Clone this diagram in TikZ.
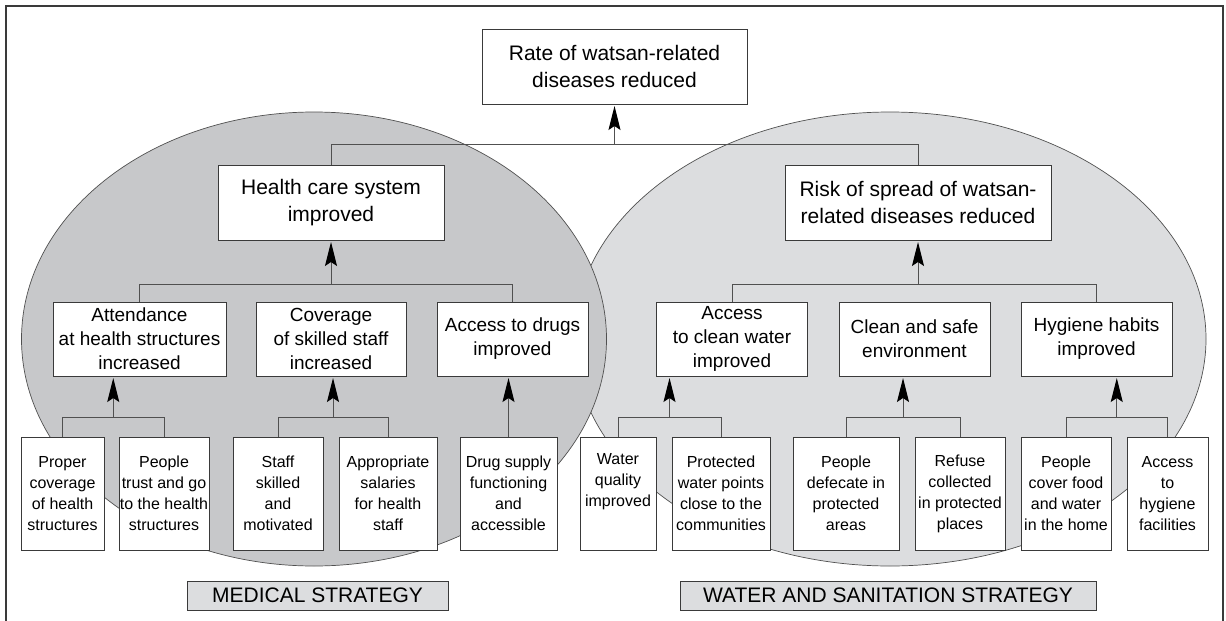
\documentclass[tikz,border=0pt]{standalone}
\usepackage{fontspec}
\setmainfont{Liberation Sans}
\usetikzlibrary{arrows.meta,calc}
\definecolor{leftgray}{HTML}{C7C8CA}
\definecolor{rightgray}{HTML}{DCDDDF}
\definecolor{stratgray}{HTML}{DCDDDF}
\definecolor{boxc}{HTML}{3A3A3A}
\definecolor{linec}{HTML}{505050}
\tikzset{
  bx/.style={draw=boxc, fill=white, line width=1pt, inner sep=0pt, align=center},
  lone/.style={bx, font=\fontsize{21}{27}\selectfont, minimum height=75pt},
  ltwo/.style={bx, font=\fontsize{19}{24}\selectfont, minimum height=74pt, minimum width=151pt},
  lthree/.style={bx, font=\fontsize{16}{21}\selectfont, minimum height=113pt},
  strat/.style={draw=boxc, fill=stratgray, line width=1pt, inner sep=0pt, minimum height=29pt, font=\fontsize{21}{25}\selectfont},
  conn/.style={draw=linec, line width=1pt},
  arr/.style={draw=linec, line width=1pt, shorten >=1.5pt, -{Stealth[length=24pt,width=12pt,inset=4pt,color=black]}},
  ell/.style={draw=linec, line width=0.7pt},
  frame/.style={draw=boxc, line width=1.3pt}
}
\begin{document}
\begin{tikzpicture}[x=1pt,y=-1pt]
\useasboundingbox (0,0) rectangle (1226,621);
\fill[white] (0,0) rectangle (1226,621);
% frame
\draw[frame] (6,621) -- (6,6) -- (1223,6) -- (1223,621);
% ellipses
\draw[ell, fill=rightgray] (890,339) ellipse [x radius=316pt, y radius=227pt];
\draw[ell, fill=leftgray] (314,339) ellipse [x radius=292.5pt, y radius=227pt];

% top level
\node[lone, minimum width=265pt] (top) at (614.5,66.5) {Rate of watsan-related\\diseases reduced};
% level 1
\node[lone, minimum width=226pt] (health) at (331,202.5) {Health care system\\improved};
\node[lone, minimum width=266pt] (risk) at (918,202.5) {Risk of spread of watsan-\\related diseases reduced};
% level 2
\node[ltwo, minimum width=173pt] (att) at (139.5,339) {Attendance\\at health structures\\increased};
\node[ltwo, minimum width=150pt] (cov) at (331,339) {Coverage\\of skilled staff\\increased};
\node[ltwo] (drugs) at (512.5,339) {Access to drugs\\improved};
\node[ltwo] (water) at (732,339) {Access\\to clean water\\improved};
\node[ltwo] (clean) at (914.5,339) {Clean and safe\\environment};
\node[ltwo] (hyg) at (1096.5,339) {Hygiene habits\\improved};
% level 3
\node[lthree, minimum width=83pt] (proper) at (62.5,493.5) {Proper\\coverage\\of health\\structures};
\node[lthree, minimum width=90pt] (trust) at (164,493.5) {People\\trust and go\\to the health\\structures};
\node[lthree, minimum width=90pt] (staff) at (278,493.5) {Staff\\skilled\\and\\motivated};
\node[lthree, minimum width=98pt] (salaries) at (388,493.5) {Appropriate\\salaries\\for health\\staff};
\node[lthree, minimum width=97pt] (supply) at (508.5,493.5) {Drug supply\\functioning\\and\\accessible};
\node[lthree, minimum width=76pt] (wq) at (618,493.5) {Water\\quality\\improved\\\strut};
\node[lthree, minimum width=98pt] (prot) at (721,493.5) {Protected\\water points\\close to the\\communities};
\node[lthree, minimum width=106pt] (defec) at (846,493.5) {People\\defecate in\\protected\\areas};
\node[lthree, minimum width=90pt] (refuse) at (960,493.5) {Refuse\\collected\\in protected\\places};
\node[lthree, minimum width=90pt] (cover) at (1066,493.5) {People\\cover food\\and water\\in the home};
\node[lthree, minimum width=81pt] (hygfac) at (1167.5,493.5) {Access\\to\\hygiene\\facilities};
% strategies
\node[strat, minimum width=261pt] (medstrat) at (317.5,595.5) {MEDICAL STRATEGY};
\node[strat, minimum width=416pt] (watstrat) at (888,595.5) {WATER AND SANITATION STRATEGY};

% connectors: level 1 -> top
\draw[conn] (health.north) -- ++(0,-20) coordinate (tb) -| (risk.north);
\draw[arr] (tb -| top.south) -- (top.south);
% level 2 -> level 1
\draw[conn] (att.north) -- ++(0,-17) coordinate (hb) -| (drugs.north);
\draw[arr] (hb -| health.south) -- (health.south);
\draw[conn] (water.north) -- ++(0,-17) coordinate (rb) -| (hyg.north);
\draw[arr] (rb -| risk.south) -- (risk.south);
% level 3 -> level 2
\draw[conn] (proper.north) -- ++(0,-19) coordinate (a1) -| (trust.north);
\coordinate (am) at ($(proper.north)!0.5!(trust.north)$);
\draw[arr] (a1 -| am) -- (am |- att.south);
\draw[conn] (staff.north) -- ++(0,-19) coordinate (c1) -| (salaries.north);
\coordinate (cm) at ($(staff.north)!0.5!(salaries.north)$);
\draw[arr] (c1 -| cm) -- (cm |- cov.south);
\draw[arr] (supply.north) -- (supply.north |- drugs.south);
\draw[conn] (wq.north) -- ++(0,-19) coordinate (w1) -| (prot.north);
\coordinate (wm) at ($(wq.north)!0.5!(prot.north)$);
\draw[arr] (w1 -| wm) -- (wm |- water.south);
\draw[conn] (defec.north) -- ++(0,-19) coordinate (e1) -| (refuse.north);
\coordinate (em) at ($(defec.north)!0.5!(refuse.north)$);
\draw[arr] (e1 -| em) -- (em |- clean.south);
\draw[conn] (cover.north) -- ++(0,-19) coordinate (h1) -| (hygfac.north);
\coordinate (hm) at ($(cover.north)!0.5!(hygfac.north)$);
\draw[arr] (h1 -| hm) -- (hm |- hyg.south);
\end{tikzpicture}
\end{document}
